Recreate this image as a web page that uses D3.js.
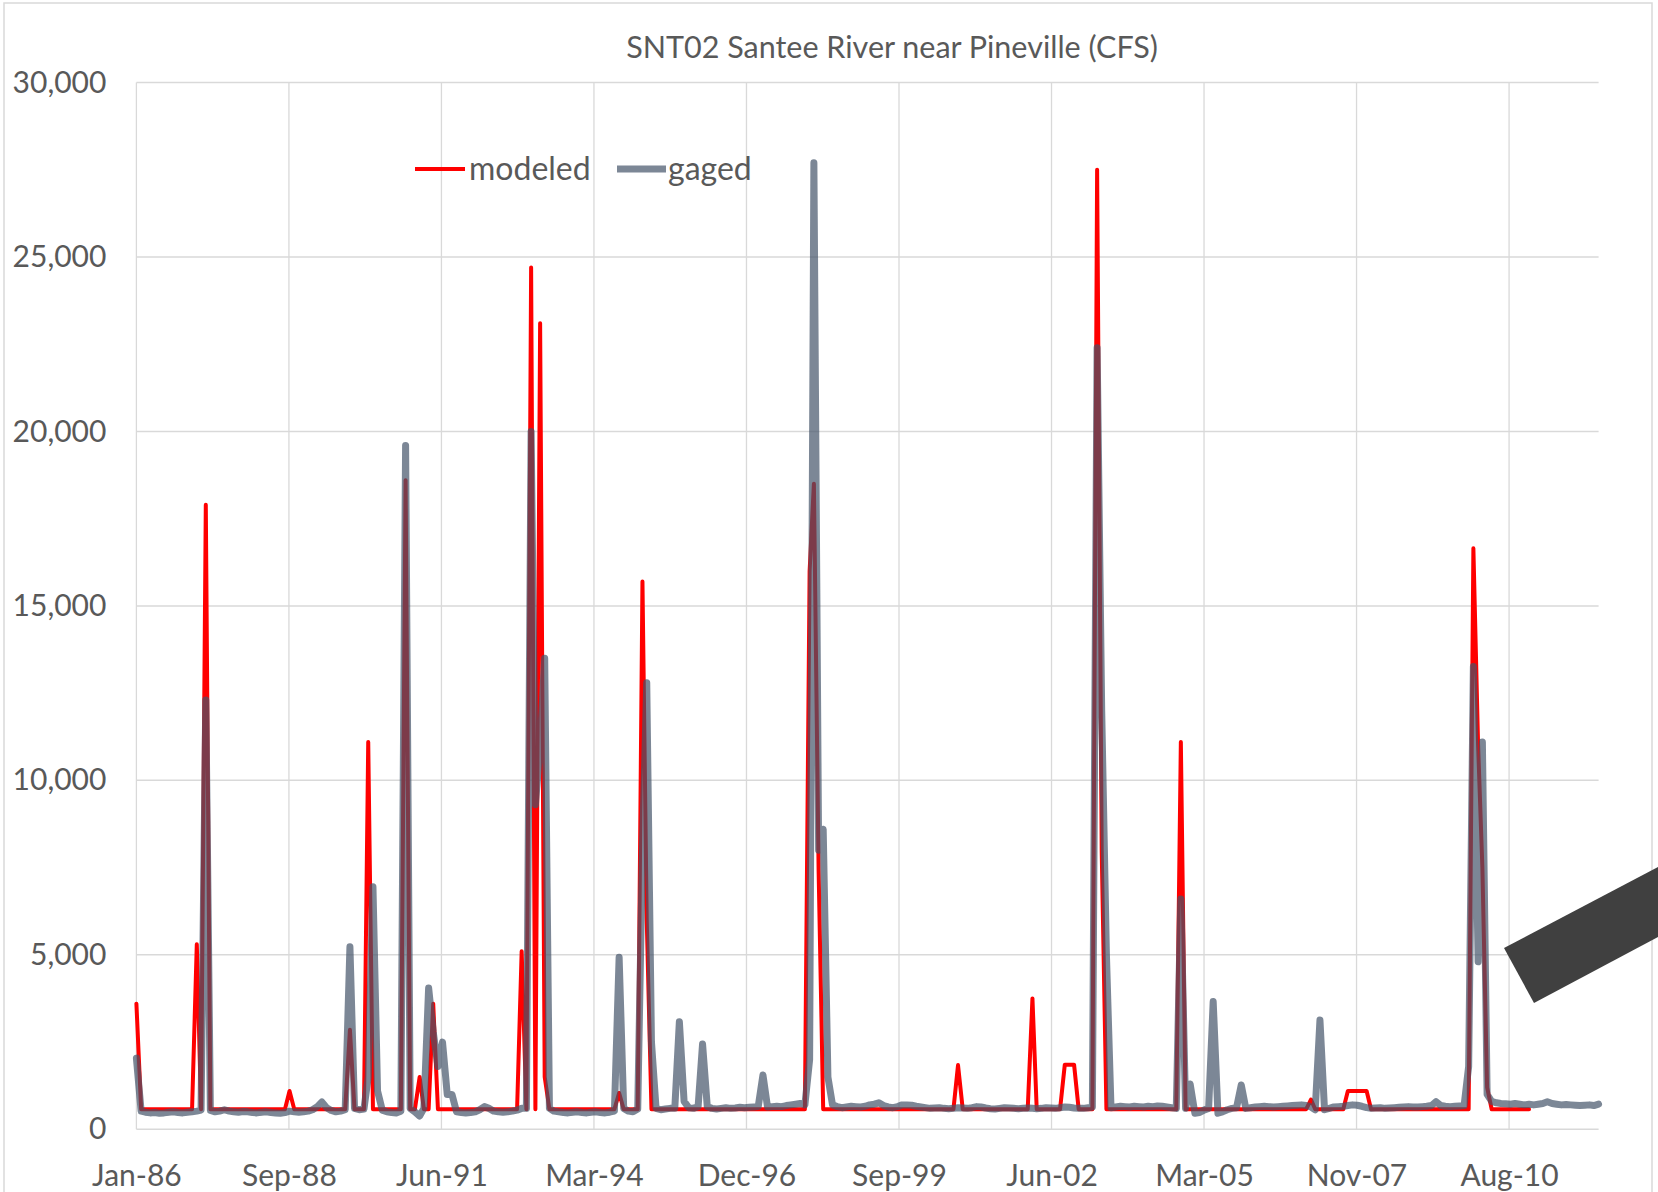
<!DOCTYPE html>
<html>
<head>
<meta charset="utf-8">
<script src="https://cdn.jsdelivr.net/npm/d3@7"></script>
<style>
  html, body { margin: 0; padding: 0; background: #fff; }
  svg { display: block; }
  text { font-family: Lato, Carlito, Calibri, sans-serif; fill: #595959; }
</style>
</head>
<body>
<svg id="chart"></svg>
<script>
// monthly flows (CFS), first value = Jan-1986
const firstMonth = Date.UTC(1986, 0, 1)
const lastMonth = Date.UTC(2012, 3, 1)

const modeled = [
  3600, 575, 575, 575, 575, 575, 575, 575, 575, 575, 575, 575,       // 1986
  575, 5300, 575, 17900, 575, 575, 575, 575, 575, 575, 575, 575,     // 1987
  575, 575, 575, 575, 575, 575, 575, 575, 575, 1100, 575, 575,       // 1988
  575, 575, 575, 575, 575, 575, 575, 575, 575, 575, 2850, 575,       // 1989
  575, 575, 11100, 575, 575, 575, 575, 575, 575, 575, 18600, 575,    // 1990
  575, 1500, 575, 575, 3600, 575, 575, 575, 575, 575, 575, 575,      // 1991
  575, 575, 575, 575, 575, 575, 575, 575, 575, 575, 575, 5100,       // 1992
  575, 24700, 575, 23100, 1500, 575, 575, 575, 575, 575, 575, 575,   // 1993
  575, 575, 575, 575, 575, 575, 575, 575, 1040, 575, 575, 575,       // 1994
  575, 15700, 6000, 575, 575, 575, 575, 575, 575, 575, 575, 575,     // 1995
  575, 575, 575, 575, 575, 575, 575, 575, 575, 575, 575, 575,        // 1996
  575, 575, 575, 575, 575, 575, 575, 575, 575, 575, 575, 575,        // 1997
  575, 16000, 18500, 7400, 575, 575, 575, 575, 575, 575, 575, 575,   // 1998
  575, 575, 575, 575, 575, 575, 575, 575, 575, 575, 575, 575,        // 1999
  575, 575, 575, 575, 575, 575, 575, 575, 575, 1840, 575, 575,       // 2000
  575, 575, 575, 575, 575, 575, 575, 575, 575, 575, 575, 575,        // 2001
  575, 3750, 575, 575, 575, 575, 575, 575, 1850, 1850, 1850, 575,    // 2002
  575, 575, 575, 27500, 8000, 575, 575, 575, 575, 575, 575, 575,     // 2003
  575, 575, 575, 575, 575, 575, 575, 575, 575, 11100, 575, 575,      // 2004
  575, 575, 575, 575, 575, 575, 575, 575, 575, 575, 575, 575,        // 2005
  575, 575, 575, 575, 575, 575, 575, 575, 575, 575, 575, 575,        // 2006
  575, 850, 575, 575, 575, 575, 575, 575, 575, 1100, 1100, 1100,     // 2007
  1100, 1100, 575, 575, 575, 575, 575, 575, 575, 575, 575, 575,      // 2008
  575, 575, 575, 575, 575, 575, 575, 575, 575, 575, 575, 575,        // 2009
  16650, 11000, 7500, 1200, 575, 575, 575, 575, 575, 575, 575, 575,  // 2010
  575                                                                // 2011
]

const gaged = [
  2040, 520, 490, 470, 480, 460, 470, 490, 500, 480, 470, 490,       // 1986
  500, 520, 550, 12300, 540, 500, 520, 560, 520, 500, 490, 510,      // 1987
  500, 480, 470, 490, 500, 480, 470, 460, 480, 520, 500, 490,        // 1988
  500, 520, 560, 650, 780, 620, 540, 500, 520, 560, 5230, 600,       // 1989
  560, 580, 1500, 6950, 1100, 550, 500, 480, 470, 520, 19600, 600,   // 1990
  500, 380, 600, 4050, 2800, 1800, 2500, 1000, 1000, 500, 480, 470,  // 1991
  480, 500, 560, 650, 600, 520, 500, 490, 500, 520, 550, 600,        // 1992
  600, 20000, 9300, 11000, 13500, 600, 520, 500, 480, 470, 490, 500, // 1993
  480, 470, 490, 500, 480, 470, 490, 520, 4930, 600, 520, 500,       // 1994
  580, 8000, 12800, 2500, 600, 560, 580, 600, 600, 3085, 800, 620,   // 1995
  600, 650, 2445, 650, 600, 580, 600, 620, 600, 610, 630, 620,       // 1996
  630, 640, 650, 1556, 640, 650, 660, 650, 680, 700, 720, 740,       // 1997
  700, 2000, 27700, 8000, 8600, 1500, 700, 650, 620, 640, 660, 650,  // 1998
  640, 660, 700, 720, 760, 680, 640, 620, 650, 700, 700, 690,        // 1999
  660, 640, 620, 600, 610, 620, 600, 590, 600, 620, 610, 600,        // 2000
  620, 650, 640, 610, 590, 580, 600, 620, 610, 600, 590, 600,        // 2001
  610, 600, 590, 600, 620, 610, 600, 620, 640, 630, 610, 600,        // 2002
  600, 620, 640, 22400, 12000, 5000, 620, 640, 660, 650, 640, 660,   // 2003
  650, 640, 660, 650, 670, 660, 640, 620, 600, 6600, 600, 1300,      // 2004
  460, 480, 550, 600, 3660, 460, 500, 560, 600, 620, 1270, 600,      // 2005
  620, 640, 650, 660, 650, 640, 650, 660, 670, 680, 690, 700,        // 2006
  680, 640, 560, 3130, 560, 600, 640, 650, 660, 680, 700, 690,       // 2007
  660, 620, 600, 610, 620, 600, 610, 620, 630, 640, 650, 640,        // 2008
  640, 650, 660, 680, 790, 680, 660, 650, 660, 670, 680, 1800,       // 2009
  13260, 4800, 11100, 1000, 800, 760, 740, 730, 720, 740, 720, 700,  // 2010
  720, 700, 720, 740, 790, 740, 720, 700, 710, 700, 690, 680,        // 2011
  690, 700, 680, 720                                                 // 2012
]

const yTicks = [0, 5000, 10000, 15000, 20000, 25000, 30000]
const xTickStepDays = 1000   // date axis, major unit 1000 days
const xTickCount = 10
const seriesNames = ['modeled', 'gaged']
const title = 'SNT02 Santee River near Pineville (CFS)'

const W = 1658, H = 1192
const plot = { left: 136.4, right: 1598.6, top: 82.5, bottom: 1129.3 }
const colors = { modeled: '#ff0000', gaged: '#44546a', grid: '#d9d9d9' }
const widths = { modeled: 4, gaged: 7 }

const svg = d3.select('#chart').attr('width', W).attr('height', H)
svg.append('rect').attr('width', W).attr('height', H).attr('fill', '#fff')

// chart area border
svg.append('rect')
    .attr('x', 4).attr('y', 3)
    .attr('width', 1648).attr('height', 1220)
    .attr('fill', 'none').attr('stroke', '#d9d9d9').attr('stroke-width', 1.5)

const x = d3.scaleUtc()
    .domain([new Date(firstMonth), new Date(lastMonth)])
    .range([plot.left, plot.right])
const y = d3.scaleLinear()
    .domain([0, 30000])
    .range([plot.bottom, plot.top])

const xTicks = d3.range(xTickCount).map(i => d3.utcDay.offset(new Date(firstMonth), i * xTickStepDays))
const monthDate = i => d3.utcMonth.offset(new Date(firstMonth), i)

// gridlines
const grid = svg.append('g')
grid.selectAll('.hgrid').data(yTicks).join('line')
    .attr('x1', plot.left).attr('x2', plot.right)
    .attr('y1', d => y(d)).attr('y2', d => y(d))
    .attr('stroke', colors.grid).attr('stroke-width', 1.5)
grid.selectAll('.vgrid').data(xTicks).join('line')
    .attr('x1', d => x(d)).attr('x2', d => x(d))
    .attr('y1', plot.top).attr('y2', plot.bottom)
    .attr('stroke', colors.grid).attr('stroke-width', 1.3)

// axes labels
const yAxis = svg.append('g')
    .attr('transform', `translate(${plot.left - 30},0)`)
    .call(d3.axisLeft(y).tickValues(yTicks).tickFormat(d3.format(',')).tickSize(0).tickPadding(0))
yAxis.select('.domain').remove()
yAxis.selectAll('text')
    .attr('font-size', 30).attr('fill', '#595959')
    .style('font-family', 'Lato, Carlito, Calibri, sans-serif')

const xAxis = svg.append('g')
    .attr('transform', `translate(0,${plot.bottom + 35})`)
    .call(d3.axisBottom(x).tickValues(xTicks).tickFormat(d3.utcFormat('%b-%y')).tickSize(0).tickPadding(0))
xAxis.select('.domain').remove()
xAxis.selectAll('text')
    .attr('font-size', 30).attr('fill', '#595959')
    .style('font-family', 'Lato, Carlito, Calibri, sans-serif')

// series
const line = d3.line()
    .x((d, i) => x(monthDate(i)))
    .y(d => y(d))

svg.append('path')
    .datum(modeled)
    .attr('d', line)
    .attr('fill', 'none')
    .attr('stroke', colors.modeled).attr('stroke-width', widths.modeled)
    .attr('stroke-linejoin', 'round').attr('stroke-linecap', 'round')

svg.append('path')
    .datum(gaged)
    .attr('d', line)
    .attr('fill', 'none')
    .attr('stroke', colors.gaged).attr('stroke-width', widths.gaged).attr('stroke-opacity', 0.7)
    .attr('stroke-linejoin', 'round').attr('stroke-linecap', 'round')

// title
svg.append('text')
    .attr('x', 892).attr('y', 58)
    .attr('text-anchor', 'middle')
    .attr('font-size', 30.5)
    .text(title)

// legend
const legendItems = [
    { name: seriesNames[0], x1: 415, x2: 465, tx: 469, color: colors.modeled, w: widths.modeled, op: 1 },
    { name: seriesNames[1], x1: 617, x2: 666, tx: 668, color: colors.gaged, w: widths.gaged, op: 0.7 }
]
const legend = svg.append('g')
legend.selectAll('line').data(legendItems).join('line')
    .attr('x1', d => d.x1).attr('x2', d => d.x2)
    .attr('y1', 169).attr('y2', 169)
    .attr('stroke', d => d.color).attr('stroke-width', d => d.w).attr('stroke-opacity', d => d.op)
legend.selectAll('text').data(legendItems).join('text')
    .attr('x', d => d.tx).attr('y', 180)
    .attr('font-size', 32)
    .text(d => d.name)

// dark bar shape overlapping the lower right corner of the picture
svg.append('polygon')
    .attr('points', '1504,948 1658,867 1658,937 1534,1003')
    .attr('fill', '#404040')
</script>
</body>
</html>
